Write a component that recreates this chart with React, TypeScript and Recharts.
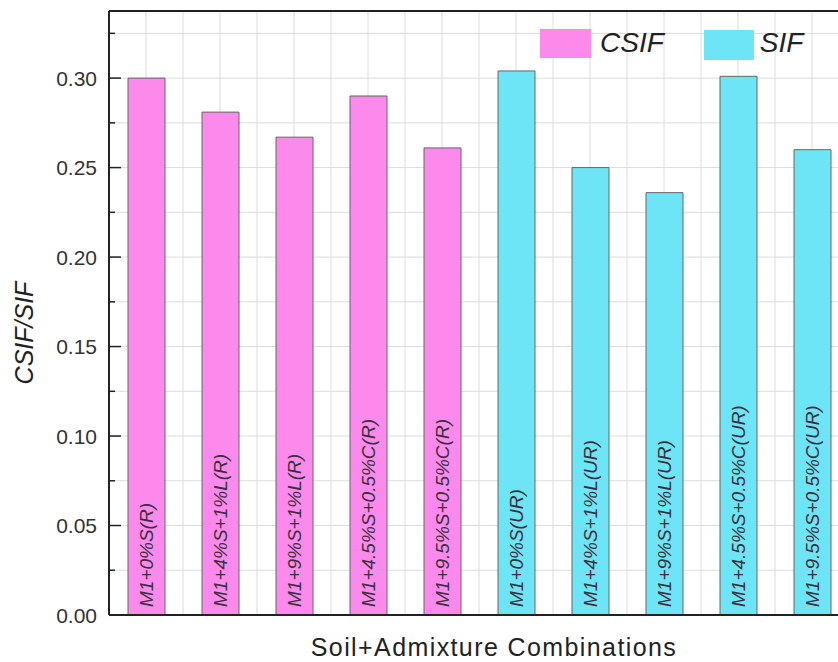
import { BarChart, Bar, XAxis, YAxis, CartesianGrid, LabelList, ReferenceLine } from 'recharts';

const categories = [
  'M1+0%S(R)',
  'M1+4%S+1%L(R)',
  'M1+9%S+1%L(R)',
  'M1+4.5%S+0.5%C(R)',
  'M1+9.5%S+0.5%C(R)',
  'M1+0%S(UR)',
  'M1+4%S+1%L(UR)',
  'M1+9%S+1%L(UR)',
  'M1+4.5%S+0.5%C(UR)',
  'M1+9.5%S+0.5%C(UR)',
];
const csifValues = [0.3, 0.281, 0.267, 0.29, 0.261];
const sifValues = [0.304, 0.25, 0.236, 0.301, 0.26];
const yTicks = [0, 0.025, 0.05, 0.075, 0.1, 0.125, 0.15, 0.175, 0.2, 0.225, 0.25, 0.275, 0.3, 0.325];
const yMax = 0.3375;

const PINK = '#fb8aec';
const CYAN = '#6ee5f6';
const FONT = '"Liberation Sans", Arial, sans-serif';

const n = csifValues.length;
const data = categories.map((name, i) => ({
  name,
  csif: i < n ? csifValues[i] : null,
  sif: i >= n ? sifValues[i - n] : null,
  csifLabel: i < n ? name : null,
  sifLabel: i >= n ? name : null,
}));

const YTick = (props: any) => {
  const { x, y, payload } = props;
  const v = payload.value;
  const major = Math.round(v * 1000) % 50 === 0;
  const axisX = x + 12;
  return (
    <g>
      <line x1={axisX} x2={axisX + (major ? 12 : 6)} y1={y} y2={y} stroke="#222" strokeWidth={1.5} />
      {major && (
        <text x={x} y={y} textAnchor="end" dominantBaseline="central" fontSize={21} fill="#333" fontFamily={FONT}>
          {v.toFixed(2)}
        </text>
      )}
    </g>
  );
};

const BarText = (props: any) => {
  const { x, y, width, height, value } = props;
  if (value == null || !height) return null;
  const cx = x + width / 2;
  const by = y + height - 8;
  return (
    <text
      x={cx}
      y={by}
      transform={`rotate(-90 ${cx} ${by})`}
      textAnchor="start"
      dominantBaseline="central"
      fontSize={19}
      fontStyle="italic"
      fill="#3a2f3a"
      fontFamily={FONT}
    >
      {value}
    </text>
  );
};

const YLabel = (props: any) => {
  const { viewBox } = props;
  const cx = 24;
  const cy = viewBox.y + viewBox.height / 2 + 20;
  return (
    <text x={cx} y={cy} transform={`rotate(-90 ${cx} ${cy})`} textAnchor="middle" dominantBaseline="central" fontSize={25} fontStyle="italic" fill="#222" fontFamily={FONT}>
      CSIF/SIF
    </text>
  );
};

const XLabel = (props: any) => {
  const { viewBox } = props;
  const cx = viewBox.x + viewBox.width / 2 + 15;
  return (
    <text x={cx} y={647} textAnchor="middle" dominantBaseline="central" fontSize={25} letterSpacing={1.4} fill="#222" fontFamily={FONT}>
      Soil+Admixture Combinations
    </text>
  );
};

export default function App() {
  return (
    <div style={{ position: 'fixed', left: 0, top: 0, width: 838, height: 662, overflow: 'hidden', background: '#fff' }}>
      <BarChart width={880} height={662} data={data} margin={{ top: 11, right: 31, left: 0, bottom: 0 }} barSize={37}>
        <CartesianGrid
          stroke="#dcdcdc"
          strokeWidth={1}
          verticalCoordinatesGenerator={({ offset }: any) =>
            Array.from({ length: 19 }, (_, k) => offset.left + ((k + 1) * offset.width) / 20)
          }
        />
        <XAxis
          dataKey="name"
          tick={false}
          tickLine={false}
          height={47}
          axisLine={{ stroke: '#222', strokeWidth: 2 }}
          label={<XLabel />}
        />
        <YAxis
          width={109}
          domain={[0, yMax]}
          ticks={yTicks}
          interval={0}
          tickLine={false}
          tickSize={0}
          tickMargin={12}
          tick={<YTick />}
          axisLine={{ stroke: '#222', strokeWidth: 2 }}
          label={<YLabel />}
        />
        <ReferenceLine y={yMax} stroke="#222" strokeWidth={2} />
        <Bar dataKey="csif" stackId="a" fill={PINK} stroke="#666" strokeWidth={1} isAnimationActive={false}>
          <LabelList dataKey="csifLabel" content={<BarText />} />
        </Bar>
        <Bar dataKey="sif" stackId="a" fill={CYAN} stroke="#666" strokeWidth={1} isAnimationActive={false}>
          <LabelList dataKey="sifLabel" content={<BarText />} />
        </Bar>
      </BarChart>
      <div
        style={{
          position: 'absolute',
          top: 26,
          left: 540,
          display: 'flex',
          alignItems: 'center',
          fontFamily: FONT,
          fontStyle: 'italic',
          fontSize: 28,
          color: '#222',
        }}
      >
        <div style={{ width: 51, height: 29, background: PINK }} />
        <span style={{ marginLeft: 9, marginRight: 40 }}>CSIF</span>
        <div style={{ width: 50, height: 30, background: CYAN, marginTop: 4 }} />
        <span style={{ marginLeft: 6 }}>SIF</span>
      </div>
    </div>
  );
}
